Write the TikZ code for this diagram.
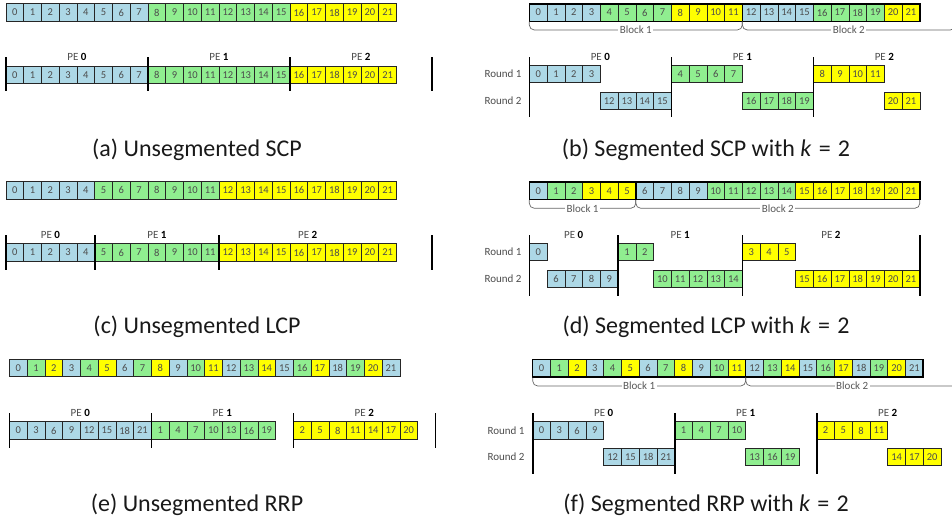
\documentclass[tikz,border=0pt]{standalone}
\usepackage{fontspec}
\setmainfont{Carlito}
\definecolor{cb}{HTML}{ADD8E6}
\definecolor{cg}{HTML}{90EE90}
\definecolor{cy}{HTML}{FFFF00}
\def\cw{17.75}
\tikzset{
  cell/.style={draw=black!85, line width=0.6pt, minimum width=17.75pt, minimum height=17.5pt,
    inner sep=0pt, outer sep=0pt, font=\fontsize{10.5}{12}\selectfont, text=black!70},
  blockbox/.style={draw=black, line width=1.5pt},
  bar/.style={draw=black, line width=1.6pt},
  brace/.style={draw=black!60, line width=0.7pt, rounded corners=5pt},
  bracelabel/.style={fill=white, inner sep=1.5pt, font=\fontsize{11}{13}\selectfont, text=black!65},
  pelabel/.style={inner sep=0pt, font=\fontsize{11}{13}\selectfont, text=black!70},
  roundlabel/.style={inner sep=0pt, font=\fontsize{11}{13}\selectfont, text=black!70},
  caption/.style={inner sep=0pt, font=\fontsize{24}{28}\selectfont, text=black!90}
}
% a run of adjacent cells: prefix, left x, centre y, list of value/colour
\newcommand\cellrun[4]{%
  \foreach \v/\c [count=\k from 0] in {#4} {
    \node[cell, fill=\c] (#1-\v) at ({#2+(\k+0.5)*\cw}, #3) {\v};
  }}
% labelled bracket under a block: name, x0, x1, top y, bottom y, text
\newcommand\blockbrace[6]{%
  \draw[brace] (#2,#4) -- (#2,#5) -- (#3,#5) -- (#3,#4);
  \node[bracelabel] (#1) at ({(#2+#3)/2}, #5) {#6};}
\newcommand\pe[4]{\node[pelabel] (#1) at (#2,#3) {PE \textcolor{black}{\textbf{#4}}};}
\newcommand\vbar[3]{\draw[bar] (#1,#2) -- (#1,#3);}
\newcommand\keq{\textit{k}\hspace{0.3em}=\hspace{0.3em}2}
\begin{document}
\begin{tikzpicture}[x=1pt, y=-1pt]
\useasboundingbox (0,0) rectangle (952,523);

% ---------------- (a) unsegmented SCP ----------------
\cellrun{aT}{6}{12.5}{0/cb,1/cb,2/cb,3/cb,4/cb,5/cb,6/cb,7/cb,8/cg,9/cg,10/cg,11/cg,12/cg,13/cg,14/cg,15/cg,16/cy,17/cy,18/cy,19/cy,20/cy,21/cy}
\cellrun{aB}{6}{74.7}{0/cb,1/cb,2/cb,3/cb,4/cb,5/cb,6/cb,7/cb,8/cg,9/cg,10/cg,11/cg,12/cg,13/cg,14/cg,15/cg,16/cy,17/cy,18/cy,19/cy,20/cy,21/cy}
\foreach \p in {0,8,16,24} { \vbar{6+\p*\cw}{57}{91} }
\pe{aPE0}{77}{57}{0}
\pe{aPE1}{219}{57}{1}
\pe{aPE2}{361}{57}{2}
\node[caption] (capA) at (197,150) {(a) Unsegmented SCP};

% ---------------- (b) segmented SCP ----------------
\cellrun{bT}{529.3}{12.5}{0/cb,1/cb,2/cb,3/cb,4/cg,5/cg,6/cg,7/cg,8/cy,9/cy,10/cy,11/cy,12/cb,13/cb,14/cb,15/cb,16/cg,17/cg,18/cg,19/cg,20/cy,21/cy}
\draw[blockbox] (bT-0.north west) rectangle (bT-11.south east);
\draw[blockbox] (bT-12.north west) rectangle (bT-21.south east);
\blockbrace{bBlk1}{529.3}{742.3}{21.5}{30}{Block 1}
\blockbrace{bBlk2}{742.3}{955.3}{21.5}{30}{Block 2}
\cellrun{bP0a}{529.3}{74}{0/cb,1/cb,2/cb,3/cb}
\cellrun{bP0b}{529.3+4*\cw}{100.7}{12/cb,13/cb,14/cb,15/cb}
\cellrun{bP1a}{529.3+8*\cw}{74}{4/cg,5/cg,6/cg,7/cg}
\cellrun{bP1b}{529.3+12*\cw}{100.7}{16/cg,17/cg,18/cg,19/cg}
\cellrun{bP2a}{529.3+16*\cw}{74}{8/cy,9/cy,10/cy,11/cy}
\cellrun{bP2b}{529.3+20*\cw}{100.7}{20/cy,21/cy}
\foreach \p in {0,8,16} { \vbar{529.3+\p*\cw}{57.3}{117.3} }
\pe{bPE0}{600.3}{57}{0}
\pe{bPE1}{742.3}{57}{1}
\pe{bPE2}{884.3}{57}{2}
\node[roundlabel] (bR1) at (503,74) {Round 1};
\node[roundlabel] (bR2) at (503,100.7) {Round 2};
\node[caption] (capB) at (706,150) {(b) Segmented SCP with \keq};

% ---------------- (c) unsegmented LCP ----------------
\cellrun{cT}{6}{190.3}{0/cb,1/cb,2/cb,3/cb,4/cb,5/cg,6/cg,7/cg,8/cg,9/cg,10/cg,11/cg,12/cy,13/cy,14/cy,15/cy,16/cy,17/cy,18/cy,19/cy,20/cy,21/cy}
\cellrun{cB}{6}{252.5}{0/cb,1/cb,2/cb,3/cb,4/cb,5/cg,6/cg,7/cg,8/cg,9/cg,10/cg,11/cg,12/cy,13/cy,14/cy,15/cy,16/cy,17/cy,18/cy,19/cy,20/cy,21/cy}
\foreach \p in {0,5,12,24} { \vbar{6+\p*\cw}{235}{270} }
\pe{cPE0}{50.4}{235}{0}
\pe{cPE1}{156.9}{235}{1}
\pe{cPE2}{307.7}{235}{2}
\node[caption] (capC) at (197,327) {(c) Unsegmented LCP};

% ---------------- (d) segmented LCP ----------------
\cellrun{dT}{529.3}{190.8}{0/cb,1/cg,2/cg,3/cy,4/cy,5/cy,6/cb,7/cb,8/cb,9/cb,10/cg,11/cg,12/cg,13/cg,14/cg,15/cy,16/cy,17/cy,18/cy,19/cy,20/cy,21/cy}
\draw[blockbox] (dT-0.north west) rectangle (dT-5.south east);
\draw[blockbox] (dT-6.north west) rectangle (dT-21.south east);
\blockbrace{dBlk1}{529.3}{635.8}{200}{208.3}{Block 1}
\blockbrace{dBlk2}{635.8}{919.8}{200}{208.3}{Block 2}
\cellrun{dP0a}{529.3}{252}{0/cb}
\cellrun{dP0b}{529.3+1*\cw}{278.7}{6/cb,7/cb,8/cb,9/cb}
\cellrun{dP1a}{529.3+5*\cw}{252}{1/cg,2/cg}
\cellrun{dP1b}{529.3+7*\cw}{278.7}{10/cg,11/cg,12/cg,13/cg,14/cg}
\cellrun{dP2a}{529.3+12*\cw}{252}{3/cy,4/cy,5/cy}
\cellrun{dP2b}{529.3+15*\cw}{278.7}{15/cy,16/cy,17/cy,18/cy,19/cy,20/cy,21/cy}
\foreach \p in {0,5,12,22} { \vbar{529.3+\p*\cw}{235}{296} }
\pe{dPE0}{573.7}{235}{0}
\pe{dPE1}{680.2}{235}{1}
\pe{dPE2}{831}{235}{2}
\node[roundlabel] (dR1) at (503,252) {Round 1};
\node[roundlabel] (dR2) at (503,278.7) {Round 2};
\node[caption] (capD) at (706,327) {(d) Segmented LCP with \keq};

% ---------------- (e) unsegmented RRP ----------------
\cellrun{eT}{9.3}{368}{0/cb,1/cg,2/cy,3/cb,4/cg,5/cy,6/cb,7/cg,8/cy,9/cb,10/cg,11/cy,12/cb,13/cg,14/cy,15/cb,16/cg,17/cy,18/cb,19/cg,20/cy,21/cb}
\cellrun{eP0}{9.3}{430.5}{0/cb,3/cb,6/cb,9/cb,12/cb,15/cb,18/cb,21/cb}
\cellrun{eP1}{9.3+8*\cw}{430.5}{1/cg,4/cg,7/cg,10/cg,13/cg,16/cg,19/cg}
\cellrun{eP2}{9.3+16*\cw}{430.5}{2/cy,5/cy,8/cy,11/cy,14/cy,17/cy,20/cy}
\foreach \p in {0,8,16,24} { \vbar{9.3+\p*\cw}{413}{448} }
\pe{ePE0}{80.3}{413}{0}
\pe{ePE1}{222.3}{413}{1}
\pe{ePE2}{364.3}{413}{2}
\node[caption] (capE) at (197,505) {(e) Unsegmented RRP};

% ---------------- (f) segmented RRP ----------------
\cellrun{fT}{532.7}{368}{0/cb,1/cg,2/cy,3/cb,4/cg,5/cy,6/cb,7/cg,8/cy,9/cb,10/cg,11/cy,12/cb,13/cg,14/cy,15/cb,16/cg,17/cy,18/cb,19/cg,20/cy,21/cb}
\draw[blockbox] (fT-0.north west) rectangle (fT-11.south east);
\draw[blockbox] (fT-12.north west) rectangle (fT-21.south east);
\blockbrace{fBlk1}{532.7}{745.7}{377.5}{386}{Block 1}
\blockbrace{fBlk2}{745.7}{958.7}{377.5}{386}{Block 2}
\cellrun{fP0a}{532.7}{430.5}{0/cb,3/cb,6/cb,9/cb}
\cellrun{fP0b}{532.7+4*\cw}{457}{12/cb,15/cb,18/cb,21/cb}
\cellrun{fP1a}{532.7+8*\cw}{430.5}{1/cg,4/cg,7/cg,10/cg}
\cellrun{fP1b}{532.7+12*\cw}{457}{13/cg,16/cg,19/cg}
\cellrun{fP2a}{532.7+16*\cw}{430.5}{2/cy,5/cy,8/cy,11/cy}
\cellrun{fP2b}{532.7+20*\cw}{457}{14/cy,17/cy,20/cy}
\foreach \p in {0,8,16} { \vbar{532.7+\p*\cw}{413}{474} }
\pe{fPE0}{603.7}{413}{0}
\pe{fPE1}{745.7}{413}{1}
\pe{fPE2}{887.7}{413}{2}
\node[roundlabel] (fR1) at (506,430.5) {Round 1};
\node[roundlabel] (fR2) at (506,457) {Round 2};
\node[caption] (capF) at (706,505) {(f) Segmented RRP with \keq};
\end{tikzpicture}
\end{document}
